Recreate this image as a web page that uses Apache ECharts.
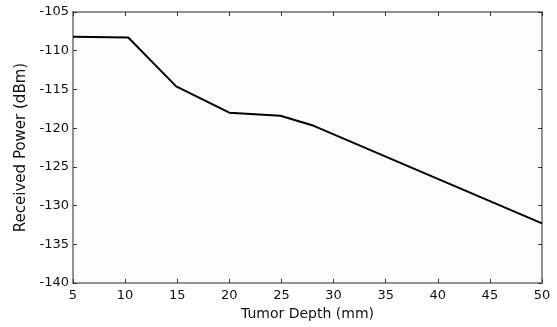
<!DOCTYPE html>
<html><head><meta charset="utf-8">
<script src="https://cdn.jsdelivr.net/npm/echarts@6/dist/echarts.min.js"></script>
<style>html,body{margin:0;padding:0;background:#fff}#c{width:557px;height:327px}</style>
</head><body><div id="c"></div>
<script>
const depth = [5, 10.3, 14.9, 20, 24.9, 28.1, 50];
const power = [-108.2, -108.3, -114.6, -118.0, -118.4, -119.7, -132.3];
const xTicks = [5, 10, 15, 20, 25, 30, 35, 40, 45, 50];
const yTicks = [-140, -135, -130, -125, -120, -115, -110, -105];

const chart = echarts.init(document.getElementById('c'));
const font = 'DejaVu Sans';
const axLine = {show: true, lineStyle: {color: '#6e6e6e', width: 1.5}};
const tick = {show: true, inside: true, length: 4, lineStyle: {color: '#333', width: 1}};
chart.setOption({
  animation: false,
  backgroundColor: '#fff',
  grid: {left: 73, right: 15, top: 12, bottom: 44, show: true, backgroundColor: '#fcfcfc', borderWidth: 0},
  xAxis: [{
    type: 'value', min: 5, max: 50, interval: 5,
    name: 'Tumor Depth (mm)', nameLocation: 'middle', nameGap: 22,
    nameTextStyle: {fontFamily: font, fontSize: 14, color: '#111'},
    axisLine: axLine, axisTick: tick, splitLine: {show: false},
    axisLabel: {fontFamily: font, fontSize: 13, color: '#111', margin: 6}
  }, {
    type: 'value', position: 'top', min: 5, max: 50, interval: 5,
    axisLine: axLine, axisTick: tick, axisLabel: {show: false}, splitLine: {show: false}
  }],
  yAxis: [{
    type: 'value', min: -140, max: -105, interval: 5,
    name: 'Received Power (dBm)', nameLocation: 'middle', nameGap: 41,
    nameTextStyle: {fontFamily: font, fontSize: 15, color: '#111'},
    axisLine: axLine, axisTick: tick, splitLine: {show: false},
    axisLabel: {fontFamily: font, fontSize: 13, color: '#111', margin: 4}
  }, {
    type: 'value', position: 'right', min: -140, max: -105, interval: 5,
    axisLine: axLine, axisTick: tick, axisLabel: {show: false}, splitLine: {show: false}
  }],
  series: [{
    type: 'line', data: depth.map((d, i) => [d, power[i]]),
    showSymbol: false, lineStyle: {color: '#000', width: 2}
  }]
});
</script></body></html>
